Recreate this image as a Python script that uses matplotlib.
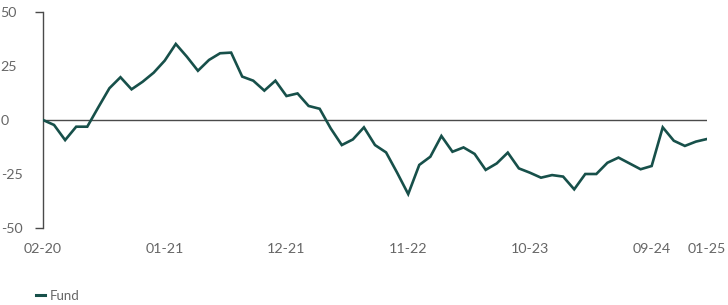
import numpy as np
import matplotlib
matplotlib.use('Agg')
import matplotlib.pyplot as plt
from matplotlib.lines import Line2D


OUT = 'out.png'
LINE_COLOR = '#17504a'
TEXT_COLOR = '#666666'
AXIS_COLOR = '#4a4a4a'

# monthly fund values
fund = [0.0, -2.3, -9.3, -3.1, -3.1, 5.9, 14.7, 19.8, 14.2, 17.7,
        21.9, 27.5, 35.2, 29.3, 22.8, 27.8, 30.9, 31.2, 20.1, 18.2,
        13.6, 18.2, 11.1, 12.3, 6.5, 5.2, -3.9, -11.6, -9.0, -3.4,
        -11.6, -15.0, -24.4, -34.3, -20.8, -17.0, -7.4, -14.7, -12.7, -15.7,
        -23.1, -20.1, -15.1, -22.4, -24.4, -26.7, -25.5, -26.2, -32.1, -25.0,
        -25.0, -19.8, -17.4, -20.1, -22.8, -21.3, -3.4, -9.6, -12.0, -10.0,
        -8.8]

tick_idx = [0, 11, 22, 33, 44, 55, 60]
tick_labels = ['02-20', '01-21', '12-21', '11-22', '10-23', '09-24', '01-25']
y_ticks = [-50, -25, 0, 25, 50]
series_name = 'Fund'

plt.rcParams['font.family'] = ['Lato', 'DejaVu Sans']

fig = plt.figure(figsize=(7.28, 3.05), dpi=100)
ax = fig.add_axes([43 / 728, 1 - 228 / 305, 664 / 728, 216 / 305])

x = np.arange(len(fund))
ax.axhline(0, color=AXIS_COLOR, lw=1.0, zorder=1)
ax.plot(x, fund, color=LINE_COLOR, lw=1.9, solid_joinstyle='miter', zorder=3)

ax.set_xlim(0, len(fund) - 1)
ax.set_ylim(-50, 50)

for side in ['top', 'right', 'bottom']:
    ax.spines[side].set_visible(False)
ax.spines['left'].set_color(AXIS_COLOR)
ax.spines['left'].set_linewidth(1.0)

# y labels left aligned at the figure edge, tick marks only at the ends
ax.set_yticks(y_ticks)
ax.set_yticklabels([str(v) for v in y_ticks])
ax.tick_params(axis='y', length=5.8, width=1.0, color=AXIS_COLOR, pad=24.7,
               labelsize=10.3, labelcolor=TEXT_COLOR)
for lab in ax.get_yticklabels():
    lab.set_horizontalalignment('left')
for t in ax.yaxis.get_major_ticks()[1:-1]:
    t.tick1line.set_visible(False)

ax.set_xticks(tick_idx)
ax.set_xticklabels(tick_labels)
ax.tick_params(axis='x', length=0, pad=10.5, labelsize=10.3, labelcolor=TEXT_COLOR)

handle = Line2D([], [], color=LINE_COLOR, lw=2.2)
fig.legend([handle], [series_name], loc='center left', bbox_to_anchor=(36 / 728, 1 - 296 / 305),
           frameon=False, borderpad=0, borderaxespad=0, handlelength=0.7, handletextpad=0.35,
           fontsize=9.5, labelcolor=TEXT_COLOR)

fig.savefig(OUT, dpi=100)
